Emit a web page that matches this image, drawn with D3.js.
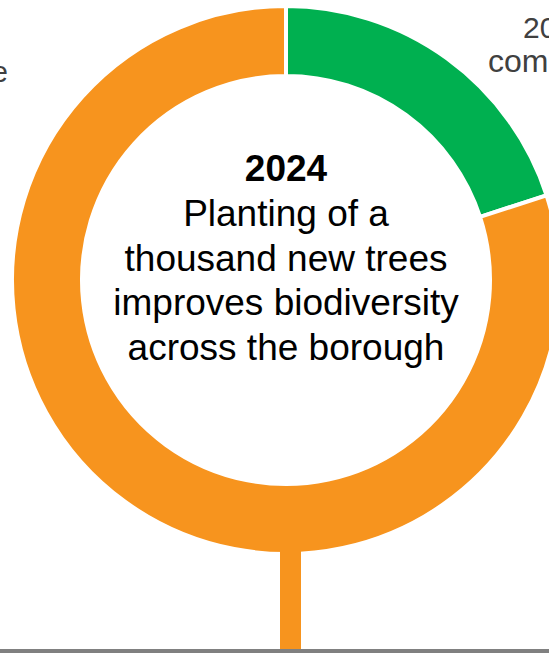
<!DOCTYPE html>
<html>
<head>
<meta charset="utf-8">
<script src="https://cdn.jsdelivr.net/npm/d3@7"></script>
<style>
  html, body { margin: 0; padding: 0; background: #fff; }
  svg { display: block; }
  text { font-family: "Liberation Sans", Arial, sans-serif; }
</style>
</head>
<body>
<svg id="chart" width="549" height="653"></svg>
<script>
// Progress ring for the 2024 milestone
const segments = ["Delivered", "Remaining"];
const segmentValues = [20, 80];
const segmentColors = ["#00B050", "#F7941E"];

// Milestone caption shown in the middle of the ring
const milestoneYear = "2024";
const milestoneLines = ["Planting of a", "thousand new trees", "improves biodiversity", "across the borough"];

// Neighbouring milestones on the timeline (mostly off the page)
const prevLines = ["A green space strategy for", "the borough is in place"];
const nextLines = ["2025", "community"];

const W = 549, H = 653;
const cx = 286, cy = 280;
const outerR = 274, innerR = 204;
const svg = d3.select("#chart");

// timeline baseline
svg.append("rect")
  .attr("x", 0).attr("y", 649).attr("width", W).attr("height", 4)
  .attr("fill", "#808080");

// neighbouring labels
const prev = svg.append("text")
  .attr("text-anchor", "end")
  .attr("font-size", 29)
  .attr("fill", "#404040");
prev.selectAll("tspan").data(prevLines).join("tspan")
  .attr("x", (d, i) => i === 0 ? -6 : 8)
  .attr("y", (d, i) => 48 + i * 34).text(d => d);

svg.append("text")
  .attr("x", 523).attr("y", 38)
  .attr("font-size", 30).attr("fill", "#404040")
  .text(nextLines[0]);
svg.append("text")
  .attr("x", 488).attr("y", 72)
  .attr("font-size", 32).attr("fill", "#404040")
  .text(nextLines[1]);

// ring
const pie = d3.pie().sort(null).value(d => d);
const arc = d3.arc().innerRadius(innerR).outerRadius(outerR);
const g = svg.append("g").attr("transform", `translate(${cx},${cy})`);
g.selectAll("path").data(pie(segmentValues)).join("path")
  .attr("d", arc)
  .attr("fill", (d, i) => segmentColors[i])
  .attr("stroke", "#fff")
  .attr("stroke-width", 4)
  .attr("stroke-linejoin", "miter");

// stem connecting ring to timeline
svg.append("rect")
  .attr("x", 280).attr("y", cy + 240).attr("width", 21).attr("height", 649 - (cy + 240))
  .attr("fill", segmentColors[1]);

// centre caption
svg.append("text")
  .attr("x", cx).attr("y", 181)
  .attr("text-anchor", "middle")
  .attr("font-size", 37).attr("font-weight", "bold").attr("fill", "#000")
  .text(milestoneYear);

const cap = svg.append("text")
  .attr("text-anchor", "middle")
  .attr("font-size", 37).attr("fill", "#000");
cap.selectAll("tspan").data(milestoneLines).join("tspan")
  .attr("x", cx).attr("y", (d, i) => 226 + i * 44.6).text(d => d);
</script>
</body>
</html>
